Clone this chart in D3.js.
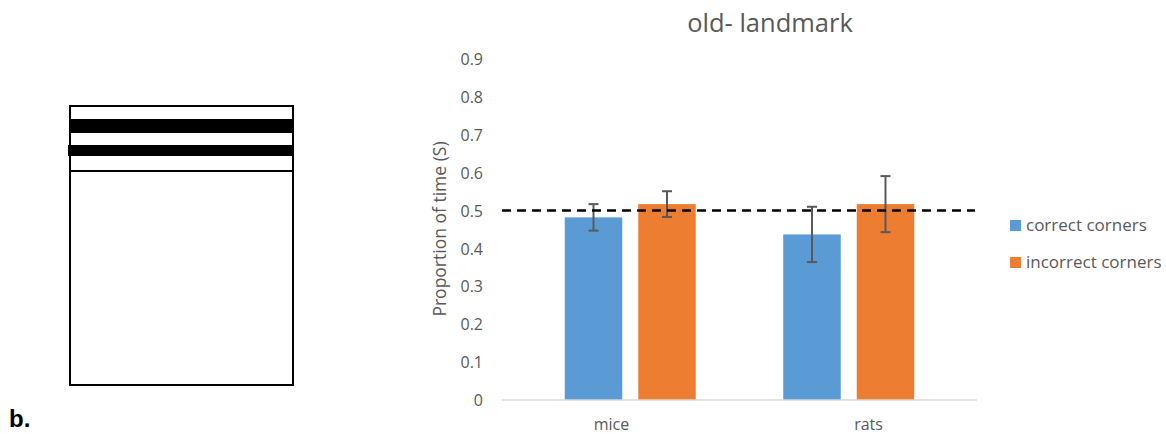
<!DOCTYPE html>
<html>
<head>
<meta charset="utf-8">
<script src="https://cdn.jsdelivr.net/npm/d3@7"></script>
<style>
  html, body { margin: 0; padding: 0; background: #fff; }
  svg { display: block; }
  text { font-family: "Open Sans", "Noto Sans", sans-serif; }
</style>
</head>
<body>
<svg id="chart" width="1166" height="434"></svg>
<script>
// Data
const categories = ["mice", "rats"];
const seriesNames = ["correct corners", "incorrect corners"];
const correctMeans = [0.482, 0.437];
const incorrectMeans = [0.517, 0.517];
const correctErr = [0.035, 0.073];
const incorrectErr = [0.034, 0.074];
const chanceLevel = 0.5;
const yTicks = [0, 0.1, 0.2, 0.3, 0.4, 0.5, 0.6, 0.7, 0.8, 0.9];
const colors = ["#5b9bd5", "#ed7d31"];

const rows = categories.map((c, i) => ({
  category: c,
  values: [
    { series: 0, mean: correctMeans[i], err: correctErr[i] },
    { series: 1, mean: incorrectMeans[i], err: incorrectErr[i] }
  ]
}));

const svg = d3.select("#chart");
const textGray = "#595959";

// ---- Panel b: arena schematic ----
const arena = svg.append("g");
arena.append("rect").attr("x", 70).attr("y", 106).attr("width", 223).attr("height", 279)
  .attr("fill", "none").attr("stroke", "#000").attr("stroke-width", 2);
arena.append("rect").attr("x", 70).attr("y", 119).attr("width", 223).attr("height", 14).attr("fill", "#000");
arena.append("rect").attr("x", 68).attr("y", 145).attr("width", 225).attr("height", 11).attr("fill", "#000");
arena.append("line").attr("x1", 70).attr("x2", 293).attr("y1", 171).attr("y2", 171)
  .attr("stroke", "#000").attr("stroke-width", 2);
svg.append("text").attr("x", 9).attr("y", 427)
  .style("font-family", "'Liberation Sans', Arial, sans-serif")
  .style("font-weight", "bold").style("font-size", "24px").attr("fill", "#000").text("b.");

// ---- Bar chart ----
const plotLeft = 502, plotRight = 977, plotTop = 59, plotBottom = 400;

const y = d3.scaleLinear().domain([0, 0.9]).range([plotBottom, plotTop]);

// bar group positions
const x = d3.scalePoint().domain(categories).range([plotLeft, plotRight]).padding(0.587);
// category label positions
const xLabel = d3.scalePoint().domain(categories).range([plotLeft, plotRight]).padding(0.424);

const barW = 57.5, barGap = 16;
const offset = s => (s === 0 ? -(barGap / 2 + barW) : barGap / 2);

// title
svg.append("text").attr("x", 770).attr("y", 32).attr("text-anchor", "middle")
  .attr("fill", textGray).style("font-size", "25.5px").text("old- landmark");

// y axis (labels only)
const yAxis = d3.axisLeft(y).tickValues(yTicks).tickSize(0).tickPadding(0)
  .tickFormat(d => d === 0 ? "0" : d3.format(".1f")(d));
const gy = svg.append("g").attr("transform", `translate(483,0)`).call(yAxis);
gy.select(".domain").remove();
gy.selectAll("text").attr("fill", textGray).style("font-size", "16px")
  .style("font-family", "'Open Sans', sans-serif").attr("dy", "0.35em");

// y axis title
svg.append("text").attr("transform", `translate(446,229) rotate(-90)`)
  .attr("text-anchor", "middle").attr("fill", textGray).style("font-size", "17.5px")
  .text("Proportion of time (S)");

// bars
const groups = svg.append("g").selectAll("g").data(rows).join("g")
  .attr("transform", d => `translate(${x(d.category)},0)`);

groups.selectAll("rect").data(d => d.values).join("rect")
  .attr("x", d => offset(d.series))
  .attr("y", d => y(d.mean))
  .attr("width", barW)
  .attr("height", d => y(0) - y(d.mean))
  .attr("fill", d => colors[d.series]);

// error bars
const eb = groups.selectAll("g.err").data(d => d.values).join("g").attr("class", "err")
  .attr("stroke", "#595959").attr("stroke-width", 2);
eb.append("line")
  .attr("x1", d => offset(d.series) + barW / 2).attr("x2", d => offset(d.series) + barW / 2)
  .attr("y1", d => y(d.mean + d.err)).attr("y2", d => y(d.mean - d.err));
eb.append("line")
  .attr("x1", d => offset(d.series) + barW / 2 - 5).attr("x2", d => offset(d.series) + barW / 2 + 5)
  .attr("y1", d => y(d.mean + d.err)).attr("y2", d => y(d.mean + d.err));
eb.append("line")
  .attr("x1", d => offset(d.series) + barW / 2 - 5).attr("x2", d => offset(d.series) + barW / 2 + 5)
  .attr("y1", d => y(d.mean - d.err)).attr("y2", d => y(d.mean - d.err));

// x axis baseline
svg.append("line").attr("x1", plotLeft).attr("x2", plotRight).attr("y1", y(0)).attr("y2", y(0))
  .attr("stroke", "#d9d9d9").attr("stroke-width", 1.5);

// category labels
const xAxis = d3.axisBottom(xLabel).tickSize(0).tickPadding(0);
const gx = svg.append("g").attr("transform", `translate(0,${y(0)})`).call(xAxis);
gx.select(".domain").remove();
gx.selectAll("text").attr("fill", textGray).style("font-size", "16px")
  .style("font-family", "'Open Sans', sans-serif").attr("y", 30).attr("dy", 0);

// chance level reference line
svg.append("line").attr("x1", plotLeft).attr("x2", 975)
  .attr("y1", y(chanceLevel)).attr("y2", y(chanceLevel))
  .attr("stroke", "#000").attr("stroke-width", 2.5).attr("stroke-dasharray", "9,6");

// legend
const legend = svg.append("g").attr("transform", "translate(1010,220)");
const li = legend.selectAll("g").data(seriesNames).join("g")
  .attr("transform", (d, i) => `translate(0,${i * 37})`);
li.append("rect").attr("width", 11).attr("height", 11).attr("fill", (d, i) => colors[i]);
li.append("text").attr("x", 16).attr("y", 5.5).attr("dy", "0.35em")
  .attr("fill", textGray).style("font-size", "17px").text(d => d);
</script>
</body>
</html>
